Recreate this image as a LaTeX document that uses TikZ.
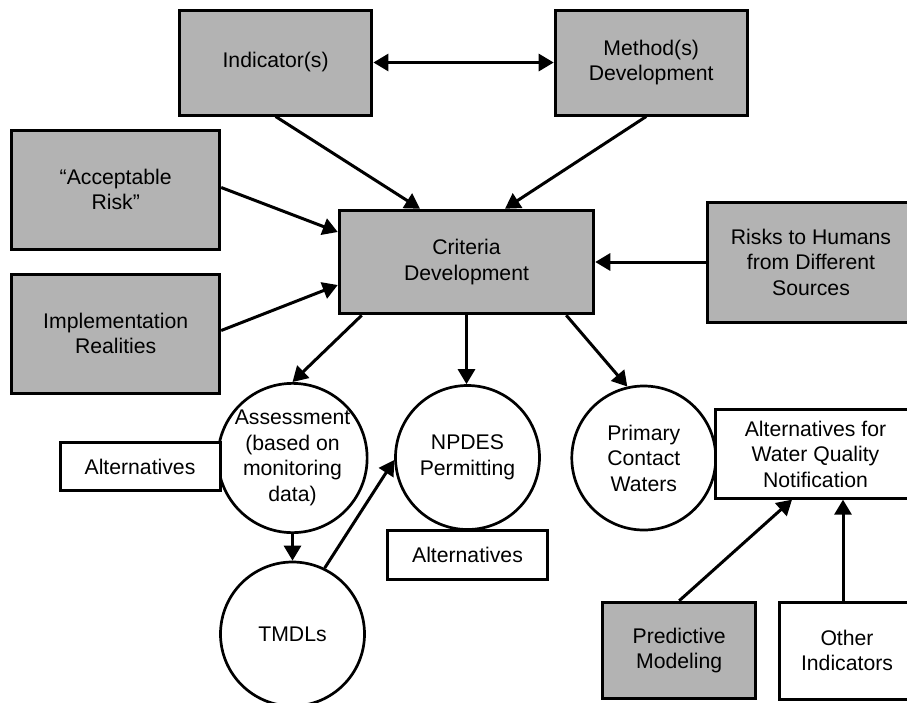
\documentclass[tikz,border=0pt]{standalone}
\usepackage{fontspec}
\setmainfont{Liberation Sans}
\usetikzlibrary{arrows.meta}
\definecolor{boxgray}{RGB}{179,179,179}
\begin{document}
\begin{tikzpicture}[x=1pt,y=-1pt,
  every node/.style={font=\fontsize{21.2}{25.5}\selectfont, align=center, inner sep=0pt},
  graybox/.style={draw, line width=3pt, fill=boxgray, rectangle},
  whitebox/.style={draw, line width=3pt, fill=white, rectangle},
  ring/.style={draw, line width=2.7pt, fill=white, circle, minimum size=144pt},
  conn/.style={line width=3pt, -{Triangle[length=15pt,width=17pt]}},
  biconn/.style={line width=3pt, {Triangle[length=15pt,width=17pt]}-{Triangle[length=15pt,width=17pt]}}
]
\useasboundingbox (0,0) rectangle (907,702);
\fill[white] (0,0) rectangle (907,702);
\clip (0,0) rectangle (907,702);

% top boxes
\node[graybox, minimum width=192.6pt, minimum height=105pt] (ind) at (275.6,62.5) {Indicator(s)};
\node[graybox, minimum width=192pt, minimum height=105pt] (meth) at (651.2,62.5) {Method(s)\\Development};
\node[graybox, minimum width=208pt, minimum height=119pt] (acc) at (115.7,189.5) {“Acceptable\\Risk”};
\node[graybox, minimum width=208pt, minimum height=119pt] (impl) at (115.7,333.5) {Implementation\\Realities};
\node[graybox, minimum width=254.5pt, minimum height=103.5pt] (crit) at (466.5,262) {Criteria\\Development};
\node[graybox, minimum width=208pt, minimum height=120pt] (risk) at (811,262) {Risks to Humans\\from Different\\Sources};

% circles
\node[ring] (assess) at (292.5,458) {Assessment\\(based on\\monitoring\\data)};
\node[ring] (npdes) at (467.5,457.5) {NPDES\\Permitting};
\node[ring] (prim) at (643.8,458) {Primary\\Contact\\Waters};
\node[ring] (tmdl) at (292.5,634) {TMDLs};

% alternative boxes
\node[whitebox, minimum width=160pt, minimum height=48.4pt] (altl) at (140,466.5) {Alternatives};
\node[whitebox, minimum width=160.4pt, minimum height=49pt] (altn) at (467.5,554.5) {Alternatives};
\node[whitebox, minimum width=201pt, minimum height=88.3pt] (wqn) at (815.5,454) {Alternatives for\\Water Quality\\Notification};
\node[graybox, minimum width=153pt, minimum height=96.7pt] (pred) at (679.2,650.6) {Predictive\\Modeling};
\node[whitebox, minimum width=136pt, minimum height=97pt] (oth) at (847,650.5) {Other\\Indicators};

% connectors
\draw[biconn] (ind.east) -- (meth.west);
\draw[conn] (ind.south) -- ([xshift=-46.5pt]crit.north);
\draw[conn] ([xshift=-5pt]meth.south) -- ([xshift=38.5pt]crit.north);
\draw[conn] ([yshift=2pt]acc.east) -- ([yshift=30pt]crit.west);
\draw[conn] ([yshift=3pt]impl.east) -- ([yshift=-23pt]crit.west);
\draw[conn] (risk.west) -- (crit.east);
\draw[conn] ([xshift=24pt]crit.south west) -- (assess.north);
\draw[conn] (crit.south) -- (crit.south |- npdes.north);
\draw[conn] ([xshift=-29pt]crit.south east) -- (prim.103);
\draw[conn] (assess.south) -- (tmdl.north);
\draw[conn] (tmdl.64) -- (npdes.182);
\draw[conn] (pred.north) -- ([xshift=-23.5pt]wqn.south);
\draw[conn] ([xshift=-4pt]oth.north) -- ([xshift=27.5pt]wqn.south);
\end{tikzpicture}
\end{document}
